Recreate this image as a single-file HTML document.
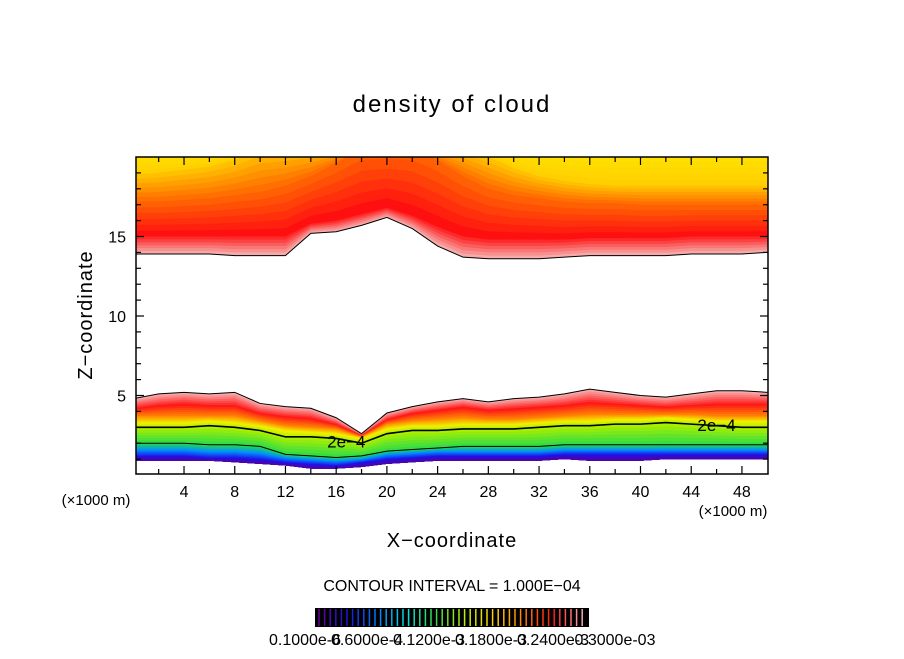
<!DOCTYPE html>
<html><head><meta charset="utf-8"><style>
body{margin:0;background:#fff;}
svg text{font-family:"Liberation Sans",sans-serif;fill:#000;}
</style></head><body>
<svg id="chart" width="904" height="654" viewBox="0 0 904 654">
<defs><clipPath id="pc"><rect x="136" y="157" width="632" height="317"/></clipPath></defs>
<g id="bands" clip-path="url(#pc)"></g>
<g id="lines" clip-path="url(#pc)"></g>
<rect x="136" y="157" width="632" height="317" fill="none" stroke="#000" stroke-width="1.5"/>
<g id="axes"></g>
<text x="452" y="112" font-size="24" text-anchor="middle" letter-spacing="2">density of cloud</text>
<text transform="translate(92,315) rotate(-90)" font-size="20" text-anchor="middle" letter-spacing="1">Z−coordinate</text>
<text x="452" y="547" font-size="20" text-anchor="middle" letter-spacing="1">X−coordinate</text>
<text x="96" y="505" font-size="15" text-anchor="middle">(×1000 m)</text>
<text x="733" y="516" font-size="15" text-anchor="middle">(×1000 m)</text>
<text x="452" y="591" font-size="16" text-anchor="middle">CONTOUR INTERVAL = 1.000E−04</text>
<g id="cbar"></g>
</svg>
<script>
const xs=[0,2,4,6,8,10,12,14,16,18,20,22,24,26,28,30,32,34,36,38,40,42,44,46,48,50];
// lower band levels (km)
const lowBottom=[0.9,0.9,0.9,0.9,0.8,0.7,0.6,0.4,0.4,0.5,0.7,0.8,0.9,0.9,0.9,0.9,0.9,1.0,0.9,0.9,0.9,1.0,1.0,1.0,1.0,1.0];
const lowPurple=[1.2,1.2,1.2,1.1,1.1,1.0,0.8,0.7,0.6,0.8,1.0,1.1,1.2,1.2,1.2,1.2,1.2,1.3,1.3,1.3,1.3,1.3,1.3,1.3,1.3,1.3];
const lowBlue=[1.6,1.6,1.6,1.5,1.5,1.4,1.1,1.0,0.9,1.0,1.3,1.4,1.5,1.5,1.5,1.5,1.5,1.6,1.6,1.6,1.6,1.6,1.6,1.6,1.6,1.6];
const lowCyan=[2.0,2.0,2.0,1.9,1.9,1.8,1.3,1.2,1.1,1.2,1.5,1.6,1.7,1.8,1.8,1.8,1.8,1.9,1.9,1.9,1.9,1.9,1.9,1.9,1.9,1.9];
const contour2e4=[3.0,3.0,3.0,3.1,3.0,2.8,2.4,2.4,2.3,2.0,2.6,2.8,2.8,2.9,2.9,2.9,3.0,3.1,3.1,3.2,3.2,3.3,3.2,3.1,3.0,3.0];
const lowYellow=[3.3,3.3,3.3,3.4,3.3,3.1,2.8,2.7,2.6,2.3,2.9,3.1,3.1,3.2,3.2,3.2,3.3,3.4,3.4,3.5,3.5,3.6,3.5,3.4,3.4,3.4];
const lowOrange=[3.7,3.7,3.7,3.7,3.7,3.4,3.1,3.0,2.9,2.4,3.2,3.4,3.5,3.6,3.5,3.5,3.6,3.7,3.8,3.8,3.8,3.8,3.8,3.7,3.7,3.7];
const lowRed=[4.2,4.4,4.5,4.4,4.4,3.9,3.7,3.6,3.2,2.5,3.5,3.9,4.1,4.3,4.1,4.2,4.3,4.4,4.6,4.5,4.4,4.3,4.4,4.5,4.5,4.5];
const lowTop=[4.8,5.1,5.2,5.1,5.2,4.5,4.3,4.2,3.6,2.6,3.9,4.3,4.6,4.8,4.6,4.8,4.9,5.1,5.4,5.2,5.0,4.9,5.1,5.3,5.3,5.2];
// upper band levels (km)
const upBottom=[13.9,13.9,13.9,13.9,13.8,13.8,13.8,15.2,15.3,15.7,16.2,15.5,14.4,13.7,13.6,13.6,13.6,13.7,13.8,13.8,13.8,13.8,13.9,13.9,13.9,14.0];
const upRed=[15.0,15.0,15.0,15.0,15.0,15.0,15.0,15.8,16.0,16.4,16.8,16.3,15.6,15.0,14.8,14.8,14.8,14.8,14.9,14.9,14.9,14.9,15.0,15.0,15.0,15.0];
const upOrange=[17.2,17.2,17.3,17.4,17.6,17.8,18.2,18.8,19.6,20.5,20.5,20.5,19.8,18.8,18.0,17.6,17.4,17.2,17.1,17.1,17.0,17.0,17.0,17.0,17.0,17.0];
const upYellow=[18.9,19.0,19.2,19.4,19.8,20.5,20.5,20.5,20.5,20.5,20.5,20.5,20.5,20.5,20.0,19.3,18.8,18.5,18.3,18.2,18.2,18.2,18.2,18.2,18.2,18.2];
const xTicks=[4,8,12,16,20,24,28,32,36,40,44,48];
const yTicks=[5,10,15];
const cbLabels=["0.1000e-6","0.6000e-4","0.1200e-3","0.1800e-3","0.2400e-3","0.3000e-03"];

const NS="http://www.w3.org/2000/svg";
const X=v=>133.3+v*12.68, Y=v=>475-v*15.9;
function mk(tag,attrs,parent){const e=document.createElementNS(NS,tag);for(const k in attrs)e.setAttribute(k,attrs[k]);parent.appendChild(e);return e;}
function hex(c){return [parseInt(c.slice(1,3),16),parseInt(c.slice(3,5),16),parseInt(c.slice(5,7),16)];}
function mix(a,b,t){const A=hex(a),B=hex(b);return "rgb("+A.map((v,i)=>Math.round(v+(B[i]-v)*t)).join(",")+")";}
const bands=document.getElementById('bands');
function poly(top,bot,col){
  let pts=xs.map((x,i)=>X(x)+","+Y(top[i]));
  for(let i=xs.length-1;i>=0;i--)pts.push(X(xs[i])+","+Y(bot[i]));
  const p=mk('polygon',{points:pts.join(' '),fill:col},bands);
  
  
}
const lowLv=[lowBottom,lowPurple,lowBlue,lowCyan,contour2e4,lowYellow,lowOrange,lowRed,lowTop];
const lowCol=["#5a0096","#2010e8","#0090ff","#20d850","#a8f000","#f0f000","#ff9000","#ff1818","#f7aaaa"];
const N=6;
for(let s=lowLv.length-2;s>=0;s--){
  for(let k=N;k>=1;k--){
    const t=k/N;
    const lv=lowLv[s].map((v,i)=>v+(lowLv[s+1][i]-v)*t);
    poly(lv,lowBottom,mix(lowCol[s],lowCol[s+1],t));
  }
}
const top20=xs.map(()=>20.5);
const upLv=[upBottom,upRed,upOrange,upYellow,top20];
const upCol=["#f7aaaa","#ff1010","#ff7000","#ffd000","#ffe800"];
for(let s=0;s<upLv.length-1;s++){
  for(let k=0;k<N;k++){
    const t=k/N;
    const lv=upLv[s].map((v,i)=>v+(upLv[s+1][i]-v)*t);
    poly(top20,lv,mix(upCol[s],upCol[s+1],t));
  }
}
const lines=document.getElementById('lines');
function line(arr,w,name){
  const p=mk('polyline',{points:xs.map((x,i)=>X(x)+","+Y(arr[i])).join(' '),fill:'none',stroke:'#000','stroke-width':w},lines);
  
  
}
line(upBottom,1,'upper-cloud-edge');
line(lowTop,1,'lower-cloud-edge');
line(contour2e4,1.6,'contour-2e-4');
line(lowCyan,1,'contour-1e-4');
[[16.8,2.1],[46,3.15]].forEach(([x,y])=>{
  const t=mk('text',{x:X(x),y:Y(y)+6,'font-size':17,'text-anchor':'middle'},lines);
  t.textContent='2e−4';
  
  
});
const ax=document.getElementById('axes');
for(let v=2;v<50;v+=2){
  const L=(v%4===0)?8:5;
  mk('line',{x1:X(v),x2:X(v),y1:474,y2:474-L,stroke:'#000','stroke-width':1.2},ax);
  mk('line',{x1:X(v),x2:X(v),y1:157,y2:157+L,stroke:'#000','stroke-width':1.2},ax);
}
for(let v=1;v<20;v++){
  const L=(v%5===0)?8:5;
  mk('line',{x1:136,x2:136+L,y1:Y(v),y2:Y(v),stroke:'#000','stroke-width':1.2},ax);
  mk('line',{x1:768,x2:768-L,y1:Y(v),y2:Y(v),stroke:'#000','stroke-width':1.2},ax);
}
xTicks.forEach(v=>{
  const t=mk('text',{x:X(v),y:497,'font-size':16,'text-anchor':'middle'},ax);
  t.textContent=v;
  
  
});
yTicks.forEach(v=>{
  const t=mk('text',{x:126,y:Y(v)+6,'font-size':16,'text-anchor':'end'},ax);
  t.textContent=v;
  
  
});
const cb=document.getElementById('cbar');
mk('rect',{x:315,y:608,width:274,height:19,fill:'#000'},cb);
const cbStops=["#6a00a0","#1818e0","#0080ff","#00e0e0","#30e040","#c0f000","#ffd000","#ff8000","#ff1818","#f7aaaa"];
for(let i=0;i<48;i++){
  const f=i/47*(cbStops.length-1), s=Math.min(Math.floor(f),cbStops.length-2);
  mk('line',{x1:319+i*5.6,x2:319+i*5.6,y1:609,y2:626,stroke:mix(cbStops[s],cbStops[s+1],f-s),'stroke-width':1.5},cb);
}
cbLabels.forEach((s,i)=>{
  const t=mk('text',{x:305+i*62,y:645,'font-size':16,'text-anchor':'middle'},cb);
  t.textContent=s;
  
  
});
</script>
</body></html>
